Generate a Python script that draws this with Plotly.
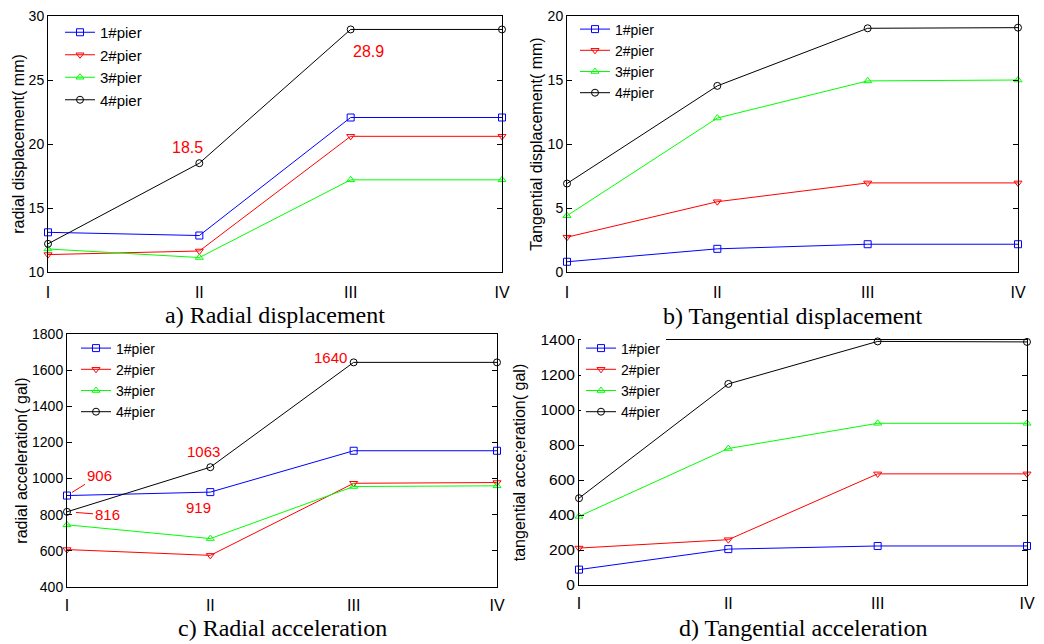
import plotly.graph_objects as go

stages = ["I", "II", "III", "IV"]
piers = ["1#pier", "2#pier", "3#pier", "4#pier"]
colors = ["#0000FF", "#FF0000", "#00FF00", "#000000"]
symbols = ["square-open", "triangle-down-open", "triangle-up-open", "circle-open"]

# a) Radial displacement (mm)
radial_disp = [
    [13.1, 12.85, 22.07, 22.07],
    [11.36, 11.64, 20.6, 20.6],
    [11.8, 11.13, 17.2, 17.2],
    [12.2, 18.5, 28.95, 28.95],
]
# b) Tangential displacement (mm)
tang_disp = [
    [0.8, 1.81, 2.17, 2.17],
    [2.72, 5.49, 6.96, 6.96],
    [4.4, 12.03, 14.93, 15.0],
    [6.91, 14.54, 19.04, 19.09],
]
# c) Radial acceleration (gal)
radial_acc = [
    [906, 925, 1154, 1154],
    [607, 575, 974, 978],
    [744, 668, 956, 960],
    [816, 1063, 1643, 1643],
]
# d) Tangential acceleration (gal)
tang_acc = [
    [88, 205, 223, 223],
    [211, 259, 635, 635],
    [392, 780, 924, 924],
    [496, 1149, 1392, 1389],
]

# page body adds an 8px offset; figure is sized to fill the rest of the window
OFF = 8
W, H = 1044 - OFF, 644 - OFF


def px(X):
    return (X - OFF) / W


def py(Y):
    return 1 - (Y - OFF) / H


panels = [
    dict(data=radial_disp, ytitle="radial displacement( mm)", rng=[10, 30], dtick=5,
         title="a) Radial displacement", xd=[px(48), px(502)], yd=[py(272), py(16)],
         lg=dict(x=px(60), yc=66, fs=15), ystand=0, tfs=14, ty=315, xs=6),
    dict(data=tang_disp, ytitle="Tangential displacement( mm)", rng=[0, 20], dtick=5,
         title="b) Tangential displacement", xd=[px(567), px(1018)], yd=[py(272), py(16)],
         lg=dict(x=px(575), yc=61, fs=14), ystand=1, tfs=14, ty=316, xs=6),
    dict(data=radial_acc, ytitle="radial acceleration( gal)", rng=[400, 1800], dtick=200,
         title="c) Radial acceleration", xd=[px(67), px(497)], yd=[py(587), py(334)],
         lg=dict(x=px(76), yc=380, fs=14), ystand=0, tfs=14, ty=628, xs=4),
    dict(data=tang_acc, ytitle="tangential acce;eration( gal)", rng=[0, 1400], dtick=200,
         title="d) Tangential acceleration", xd=[px(579), px(1027)], yd=[py(585), py(340)],
         lg=dict(x=px(581), yc=380, fs=14), ystand=10, tfs=15.5, ty=628, xs=4),
]

fig = go.Figure()
layout = dict(
    width=W, height=H, margin=dict(l=0, r=0, t=0, b=0),
    paper_bgcolor="white", plot_bgcolor="white",
    font=dict(family="Liberation Sans, Arial, sans-serif", color="black"),
    annotations=[],
)

for i, p in enumerate(panels):
    n = "" if i == 0 else str(i + 1)
    lgname = "legend" + n
    for k in range(4):
        fig.add_trace(go.Scatter(
            x=stages, y=p["data"][k], name=piers[k], mode="lines+markers",
            line=dict(color=colors[k], width=1),
            marker=dict(symbol=symbols[k], size=7, color=colors[k], line=dict(width=1, color=colors[k])),
            xaxis="x" + n, yaxis="y" + n, legend=lgname, cliponaxis=False,
        ))
    layout["xaxis" + n] = dict(
        domain=p["xd"], anchor="y" + n, type="category", range=[0, 3], automargin=False,
        showline=True, linecolor="black", linewidth=1, mirror=True,
        ticks="", showgrid=False, zeroline=False, ticklabeloverflow="allow",
        tickfont=dict(size=16), ticklabelstandoff=p["xs"],
    )
    layout["yaxis" + n] = dict(
        domain=p["yd"], anchor="x" + n, range=p["rng"], dtick=p["dtick"], automargin=False,
        showline=True, linecolor="black", linewidth=1, mirror="ticks",
        ticks="inside", ticklen=5, tickcolor="black", showgrid=False, zeroline=False,
        ticklabeloverflow="allow",
        tickfont=dict(size=p["tfs"]),
        title=dict(text=p["ytitle"], font=dict(size=16), standoff=p["ystand"]),
    )
    layout[lgname] = dict(
        x=p["lg"]["x"], y=py(p["lg"]["yc"]), xanchor="left", yanchor="middle",
        bgcolor="rgba(255,255,255,1)" if i == 3 else "rgba(0,0,0,0)",
        font=dict(size=p["lg"]["fs"]), borderwidth=0, tracegroupgap=0,
    )
    xc = (p["xd"][0] + p["xd"][1]) / 2
    layout["annotations"].append(dict(
        text=p["title"], xref="paper", yref="paper", x=xc, y=py(p["ty"]),
        xanchor="center", yanchor="middle", showarrow=False,
        font=dict(family="Liberation Serif, Times New Roman, serif", size=24),
    ))

red = dict(color="#FF0000", size=16)
# value labels (panel a)
layout["annotations"] += [
    dict(text="18.5", x=stages[1], y=radial_disp[3][1], xref="x", yref="y",
         showarrow=False, xshift=-12, yshift=16, font=red),
    dict(text="28.9", x=stages[2], y=radial_disp[3][2], xref="x", yref="y",
         showarrow=False, xshift=18, yshift=-22, font=red),
]
red15 = dict(color="#FF0000", size=15)
layout["annotations"] += [
    dict(text="906", x=stages[0], y=radial_acc[0][0], xref="x3", yref="y3",
         showarrow=True, arrowhead=0, arrowwidth=1, arrowcolor="#FF0000",
         ax=32, ay=-20, standoff=6, font=red15),
    dict(text="816", x=stages[0], y=radial_acc[3][0], xref="x3", yref="y3",
         showarrow=True, arrowhead=0, arrowwidth=1, arrowcolor="#FF0000",
         ax=40, ay=3, standoff=9, font=red15),
    dict(text="1063", x=stages[1], y=radial_acc[3][1], xref="x3", yref="y3",
         showarrow=False, xshift=-7, yshift=16, font=red15),
    dict(text="919", x=stages[1], y=radial_acc[0][1], xref="x3", yref="y3",
         showarrow=False, xshift=-12, yshift=-15, font=red15),
    dict(text="1640", x=stages[2], y=radial_acc[3][2], xref="x3", yref="y3",
         showarrow=False, xshift=-23, yshift=5, font=red15),
]

fig.update_layout(**layout)
fig.write_html("out.html")
